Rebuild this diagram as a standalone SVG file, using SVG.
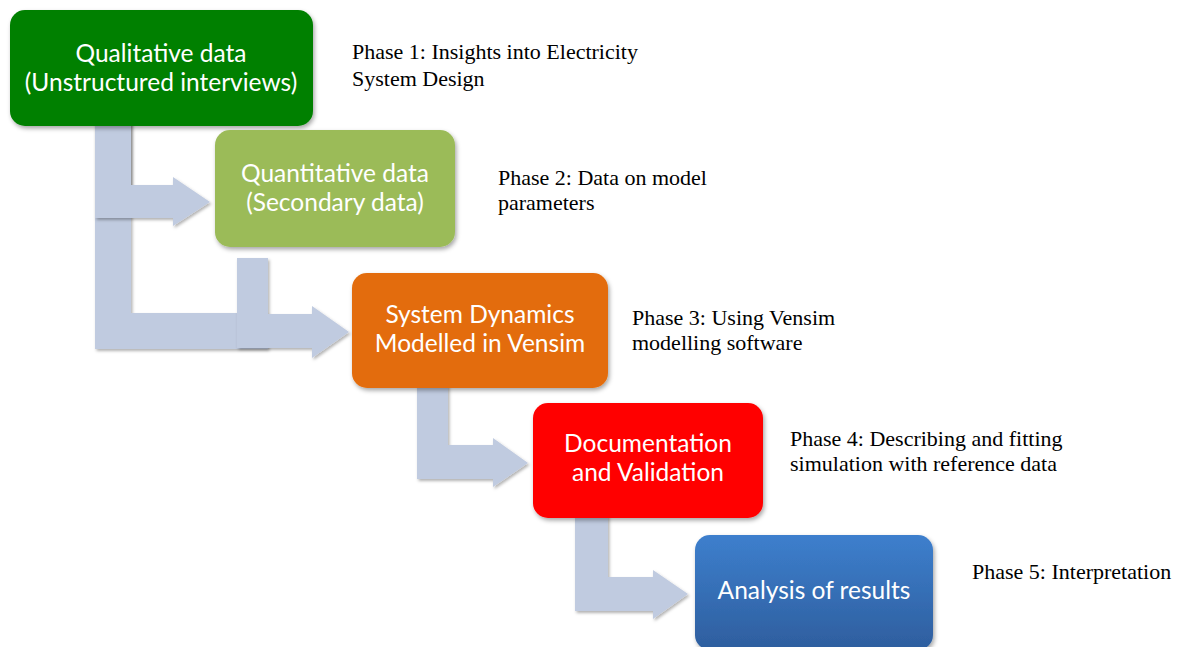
<svg xmlns="http://www.w3.org/2000/svg" width="1181" height="647" viewBox="0 0 1181 647">
  <defs>
    <filter id="shadow" x="-10%" y="-10%" width="130%" height="130%">
      <feDropShadow dx="1.5" dy="2.5" stdDeviation="2" flood-color="#000" flood-opacity="0.35"/>
    </filter>
    <filter id="arrowShadow" x="-10%" y="-10%" width="130%" height="130%">
      <feDropShadow dx="1.5" dy="2" stdDeviation="1.5" flood-color="#000" flood-opacity="0.3"/>
    </filter>
    <linearGradient id="blueFill" x1="0" y1="0" x2="0" y2="1">
      <stop offset="0" stop-color="#3D7FCD"/>
      <stop offset="1" stop-color="#2E5E9E"/>
    </linearGradient>
    <style>
      .arrow { fill: #C0CBE0; filter: url(#arrowShadow); }
      .box { filter: url(#shadow); }
      .label { font-family: Lato, "Open Sans", sans-serif; font-size: 24.5px; fill: #FFFFFF; text-anchor: middle; }
      .note { font-family: "Liberation Serif", "Times New Roman", serif; font-size: 22px; fill: #000000; }
    </style>
  </defs>

  <rect width="1181" height="647" fill="#FFFFFF"/>

  <!-- bent block arrows between phases -->
  <g id="connectors">
    <polygon class="arrow" points="95,120 131,120 131,313 268,313 268,349 95,349"/>
    <polygon class="arrow" points="95,120 131,120 131,185 173,185 173,177 210,202 173,226 173,218 95,218"/>
    <polygon class="arrow" points="237,258 268,258 268,314 312,314 312,306 349,332 312,358 312,348 237,348"/>
    <polygon class="arrow" points="417,384 448,384 448,445 493,445 493,438 528,463 493,487 493,479 417,479"/>
    <polygon class="arrow" points="575,514 608,514 608,577 653,577 653,570 688,594 653,619 653,611 575,611"/>
  </g>

  <g id="node-qualitative">
    <rect class="box" x="10" y="10" width="303" height="116" rx="15" fill="#008000"/>
    <text class="label" x="161" y="62">Qualitative data</text>
    <text class="label" x="161" y="91">(Unstructured interviews)</text>
  </g>

  <g id="node-quantitative">
    <rect class="box" x="215" y="130" width="240" height="117" rx="15" fill="#9BBB59"/>
    <text class="label" x="335" y="182">Quantitative data</text>
    <text class="label" x="335" y="211">(Secondary data)</text>
  </g>

  <g id="node-vensim">
    <rect class="box" x="352" y="273" width="256" height="115" rx="15" fill="#E36C09"/>
    <text class="label" x="480" y="323">System Dynamics</text>
    <text class="label" x="480" y="352">Modelled in Vensim</text>
  </g>

  <g id="node-validation">
    <rect class="box" x="533" y="403" width="230" height="115" rx="15" fill="#FF0000"/>
    <text class="label" x="648" y="452">Documentation</text>
    <text class="label" x="648" y="481">and Validation</text>
  </g>

  <g id="node-analysis">
    <rect class="box" x="695" y="535" width="238" height="115" rx="15" fill="url(#blueFill)"/>
    <text class="label" x="814" y="599">Analysis of results</text>
  </g>

  <g id="phase-notes">
    <text class="note" x="352" y="59">Phase 1: Insights into Electricity</text>
    <text class="note" x="352" y="86">System Design</text>
    <text class="note" x="498" y="185">Phase 2: Data on model</text>
    <text class="note" x="498" y="210">parameters</text>
    <text class="note" x="632" y="325">Phase 3: Using Vensim</text>
    <text class="note" x="632" y="350">modelling software</text>
    <text class="note" x="790" y="446">Phase 4: Describing and fitting</text>
    <text class="note" x="790" y="471">simulation with reference data</text>
    <text class="note" x="972" y="579">Phase 5: Interpretation</text>
  </g>
</svg>
